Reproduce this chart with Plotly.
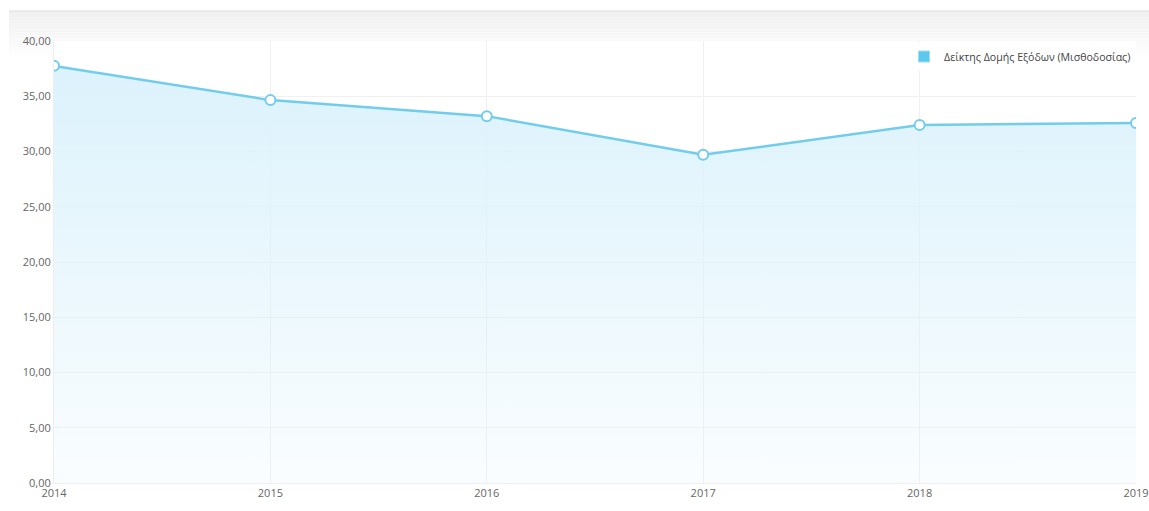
import plotly.graph_objects as go

years = [2014, 2015, 2016, 2017, 2018, 2019]
values = [37.75, 34.65, 33.2, 29.7, 32.4, 32.58]
series_name = "Δείκτης Δομής Εξόδων (Μισθοδοσίας)"
y_ticks = [0, 5, 10, 15, 20, 25, 30, 35, 40]

W, H = 1149, 511
L, R, T, B = 54, 13, 41, 28
pw, ph = W - L - R, H - T - B

def px_to_paper_x(px):
    return (px - L) / pw

def px_to_paper_y(py):
    return (H - B - py) / ph

LINE = "#72cdec"

fig = go.Figure()

fig.add_trace(go.Scatter(
    x=years, y=values, name=series_name,
    mode="lines+markers",
    line=dict(color=LINE, width=2.5),
    marker=dict(size=10, color="white", line=dict(color=LINE, width=2)),
    fill="tozeroy",
    fillgradient=dict(type="vertical",
                      colorscale=[[0, "rgba(220,242,252,0.15)"], [1, "rgba(220,242,252,1)"]]),
    showlegend=False,
))
# legend entry (square swatch)
fig.add_trace(go.Scatter(
    x=[None], y=[None], name=series_name, mode="markers",
    marker=dict(symbol="square", size=11, color="#5cc8ee", line=dict(color="#9fdcf3", width=1)),
    showlegend=True, hoverinfo="skip",
))

# header gradient band
shapes = []
top, bottom = 11, 60
n = 16
step = (bottom - top) / n
for i in range(n):
    y0p = top + i * step
    y1p = top + (i + 1) * step
    g = int(241 + (255 - 241) * (i / (n - 1)))
    col = f"rgb({g},{g},{g})"
    if y0p < T:
        shapes.append(dict(type="rect", xref="paper", yref="paper", layer="below",
                           x0=px_to_paper_x(9), x1=px_to_paper_x(W),
                           y0=px_to_paper_y(min(y1p, T)), y1=px_to_paper_y(y0p),
                           fillcolor=col, line=dict(width=0)))
    if y1p > T:
        ya = max(y0p, T)
        shapes.append(dict(type="rect", xref="paper", yref="paper", layer="below",
                           x0=px_to_paper_x(9), x1=0,
                           y0=px_to_paper_y(y1p), y1=px_to_paper_y(ya),
                           fillcolor=col, line=dict(width=0)))
        shapes.append(dict(type="rect", xref="paper", yref="paper", layer="below",
                           x0=1, x1=px_to_paper_x(W),
                           y0=px_to_paper_y(y1p), y1=px_to_paper_y(ya),
                           fillcolor=col, line=dict(width=0)))
shapes.append(dict(type="line", xref="paper", yref="paper", layer="below",
                   x0=px_to_paper_x(9), x1=px_to_paper_x(W),
                   y0=px_to_paper_y(11), y1=px_to_paper_y(11),
                   line=dict(color="#dedede", width=1)))

fig.update_layout(
    width=W, height=H,
    margin=dict(l=L, r=R, t=T, b=B, autoexpand=False),
    paper_bgcolor="white", plot_bgcolor="white",
    separators=",.",
    font=dict(family="Open Sans", size=11, color="#666666"),
    shapes=shapes,
    showlegend=True,
    legend=dict(x=px_to_paper_x(1136), y=px_to_paper_y(42), xanchor="right", yanchor="top",
                bgcolor="rgba(255,255,255,0.9)", font=dict(size=10.6, color="#444444"),
                itemwidth=30, tracegroupgap=0),
    xaxis=dict(range=[years[0], years[-1]], tickvals=years, ticktext=[str(y) for y in years],
               showgrid=True, gridcolor="#f0f0f0", zeroline=False, automargin=False,
               showline=True, linecolor="#eeeeee", ticks="", ticklen=0,
               tickfont=dict(size=11, color="#666666")),
    yaxis=dict(range=[0, 40], tickvals=y_ticks, tickformat=".2f", automargin=False,
               showgrid=True, gridcolor="#f0f0f0", zeroline=False,
               showline=True, linecolor="#eeeeee", ticks="",
               tickfont=dict(size=11, color="#666666")),
)

fig.write_html("out.html", config={"displayModeBar": False},
               post_script="document.body.style.margin='0';document.body.style.overflow='hidden';")
